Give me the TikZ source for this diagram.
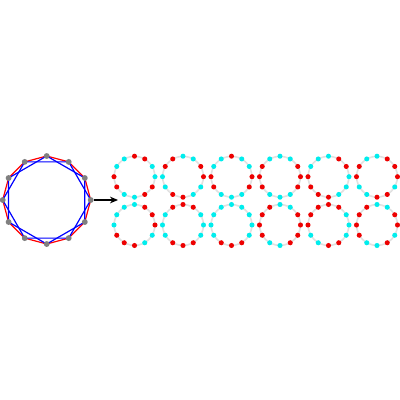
\documentclass[tikz,border=0pt]{standalone}
\usetikzlibrary{arrows.meta}
\definecolor{DotCyan}{rgb}{0.0, 0.93, 0.93}
\definecolor{DotRed}{rgb}{0.93, 0.0, 0.0}
\definecolor{DotGray}{rgb}{0.5, 0.5, 0.5}
\tikzset{
  gdot/.style={circle,fill=DotGray,inner sep=0pt,minimum size=4.4pt},
  sdot/.style={circle,inner sep=0pt,minimum size=3.8pt},
  ringline/.style={draw=gray!25,line width=1pt},
}
% one small ring with its 12 coloured dots, colours listed from angle 0 anticlockwise
\newcommand{\colring}[4]{%
  \begin{scope}[shift={(#2,#3)}]
    \coordinate (#1) at (0,0);
    \draw[ringline] (0,0) circle (20.5);
    \draw[draw=gray!20,line width=0.5pt] (0:20.5) \foreach \k in {1,...,11}{ -- (-\k*30:20.5)} -- cycle;
    \foreach \c [count=\i from 0] in {#4}
      \node[sdot,fill=\c] (#1d\i) at (-\i*30:20.5) {};
  \end{scope}
}

\begin{document}
\begin{tikzpicture}[x=0.75pt,y=0.75pt,yscale=-1,xscale=1]
\useasboundingbox (0,0) rectangle (400,400);

%Shape: 12-gon with its two hexagons
\begin{scope}[shift={(46.7,200)}]
  \draw[red,line width=0.9pt] (0:44) \foreach \k in {1,...,11}{ -- (\k*30:44)} -- cycle;
  \draw[blue,line width=0.9pt] (0:44) \foreach \k in {2,4,...,10}{ -- (\k*30:44)} -- cycle;
  \draw[blue,line width=0.9pt] (30:44) \foreach \k in {3,5,...,11}{ -- (\k*30:44)} -- cycle;
  \foreach \k in {0,...,11}
    \node[gdot] (v\k) at (-\k*30:44) {};
\end{scope}

%Arrow to the grid
\coordinate (gridin) at (118,200);
\draw[-{Stealth[length=6pt,width=5pt]},line width=0.8pt] (v0) -- (gridin);

%Row 1
\colring{ra}{134.5}{176.7}{DotCyan,DotCyan,DotRed,DotRed,DotCyan,DotCyan,DotRed,DotRed,DotCyan,DotCyan,DotRed,DotRed}
\colring{rb}{183}{176.7}{DotRed,DotRed,DotCyan,DotCyan,DotRed,DotRed,DotCyan,DotCyan,DotRed,DotRed,DotCyan,DotCyan}
\colring{rc}{231.5}{176.7}{DotRed,DotCyan,DotCyan,DotRed,DotCyan,DotCyan,DotRed,DotRed,DotCyan,DotCyan,DotCyan,DotRed}
\colring{rd}{280}{176.7}{DotRed,DotRed,DotCyan,DotCyan,DotCyan,DotRed,DotRed,DotRed,DotCyan,DotCyan,DotCyan,DotRed}
\colring{re}{328.5}{176.7}{DotCyan,DotRed,DotRed,DotCyan,DotCyan,DotCyan,DotRed,DotRed,DotRed,DotRed,DotCyan,DotCyan}
\colring{rf}{377}{176.7}{DotRed,DotRed,DotRed,DotCyan,DotCyan,DotRed,DotRed,DotCyan,DotCyan,DotRed,DotRed,DotCyan}

%Row 2
\colring{sa}{134.5}{225}{DotRed,DotRed,DotRed,DotCyan,DotCyan,DotCyan,DotCyan,DotRed,DotRed,DotRed,DotCyan,DotCyan}
\colring{sb}{183}{225}{DotCyan,DotCyan,DotRed,DotRed,DotRed,DotCyan,DotCyan,DotCyan,DotRed,DotRed,DotRed,DotCyan}
\colring{sc}{231.5}{225}{DotCyan,DotCyan,DotCyan,DotCyan,DotCyan,DotCyan,DotCyan,DotCyan,DotRed,DotRed,DotRed,DotCyan}
\colring{sd}{280}{225}{DotRed,DotRed,DotCyan,DotCyan,DotRed,DotRed,DotRed,DotRed,DotCyan,DotCyan,DotRed,DotRed}
\colring{se}{328.5}{225}{DotCyan,DotCyan,DotRed,DotRed,DotRed,DotRed,DotRed,DotCyan,DotCyan,DotRed,DotRed,DotCyan}
\colring{sf}{377}{225}{DotRed,DotRed,DotCyan,DotCyan,DotRed,DotRed,DotRed,DotRed,DotCyan,DotCyan,DotRed,DotCyan}

\end{tikzpicture}
\end{document}
